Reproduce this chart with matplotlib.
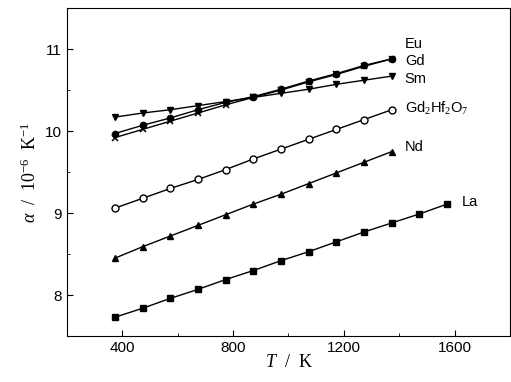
"""Thermal expansion coefficient of rare-earth hafnates vs temperature."""

import matplotlib
matplotlib.use("Agg")
import matplotlib.pyplot as plt
from matplotlib.ticker import MultipleLocator

plt.rcParams["font.family"] = ["Liberation Sans", "DejaVu Sans"]
plt.rcParams["mathtext.fontset"] = "custom"
plt.rcParams["mathtext.rm"] = "Liberation Serif"
plt.rcParams["mathtext.it"] = "Liberation Serif:italic"

T = [373, 473, 573, 673, 773, 873, 973, 1073, 1173, 1273, 1373]
T_la = [373, 473, 573, 673, 773, 873, 973, 1073, 1173, 1273, 1373, 1473, 1573]

eu = [9.92, 10.02, 10.12, 10.22, 10.32, 10.41, 10.50, 10.60, 10.69, 10.79, 10.88]
gd = [9.97, 10.07, 10.16, 10.26, 10.35, 10.42, 10.51, 10.61, 10.70, 10.80, 10.88]
sm = [10.17, 10.22, 10.26, 10.31, 10.36, 10.41, 10.46, 10.51, 10.57, 10.62, 10.67]
gd2hf2o7 = [9.06, 9.18, 9.30, 9.41, 9.53, 9.66, 9.78, 9.90, 10.02, 10.14, 10.26]
nd = [8.45, 8.59, 8.72, 8.85, 8.98, 9.11, 9.23, 9.36, 9.49, 9.62, 9.75]
la = [7.73, 7.84, 7.96, 8.07, 8.19, 8.30, 8.42, 8.53, 8.65, 8.77, 8.88, 8.99, 9.11]

labels = ["Eu", "Gd", "Sm", "Gd$_2$Hf$_2$O$_7$", "Nd", "La"]
label_pos = [(1420, 11.06), (1420, 10.86), (1420, 10.63), (1420, 10.28), (1420, 9.81), (1625, 9.14)]

fig = plt.figure(figsize=(5.11, 3.82), dpi=100)
ax = fig.add_axes([0.131, 0.12, 0.867, 0.859])

line_kw = dict(color="black", linewidth=1.0)
ax.plot(T, eu, marker="x", markersize=4, markeredgewidth=1.1, **line_kw)
ax.plot(T, gd, marker="o", markersize=4.5, markerfacecolor="black", **line_kw)
ax.plot(T, sm, marker="v", markersize=5, markerfacecolor="black", **line_kw)
ax.plot(T, gd2hf2o7, marker="o", markersize=5, markerfacecolor="white",
        markeredgewidth=1.0, **line_kw)
ax.plot(T, nd, marker="^", markersize=5, markerfacecolor="black", **line_kw)
ax.plot(T_la, la, marker="s", markersize=4.2, markerfacecolor="black", **line_kw)

for text, (x, y) in zip(labels, label_pos):
    ax.text(x, y, text, fontsize=10.5, va="center", ha="left",
            family="Liberation Sans")

ax.set_xlim(200, 1800)
ax.set_ylim(7.5, 11.5)
ax.xaxis.set_major_locator(MultipleLocator(400))
ax.xaxis.set_minor_locator(MultipleLocator(200))
ax.yaxis.set_major_locator(MultipleLocator(1))
ax.yaxis.set_minor_locator(MultipleLocator(0.5))
ax.tick_params(which="both", direction="in", top=False, right=False, labelsize=11)
ax.tick_params(which="major", length=4)
ax.tick_params(which="minor", length=2.5)

ax.set_xlabel(r"$T$  /  K", fontsize=13, labelpad=-1, family="Liberation Serif")
ax.set_ylabel(r"$\alpha$  /  10$^{-6}$  K$^{-1}$", fontsize=13, labelpad=4,
              family="Liberation Serif")

fig.savefig("out.png", dpi=100)
